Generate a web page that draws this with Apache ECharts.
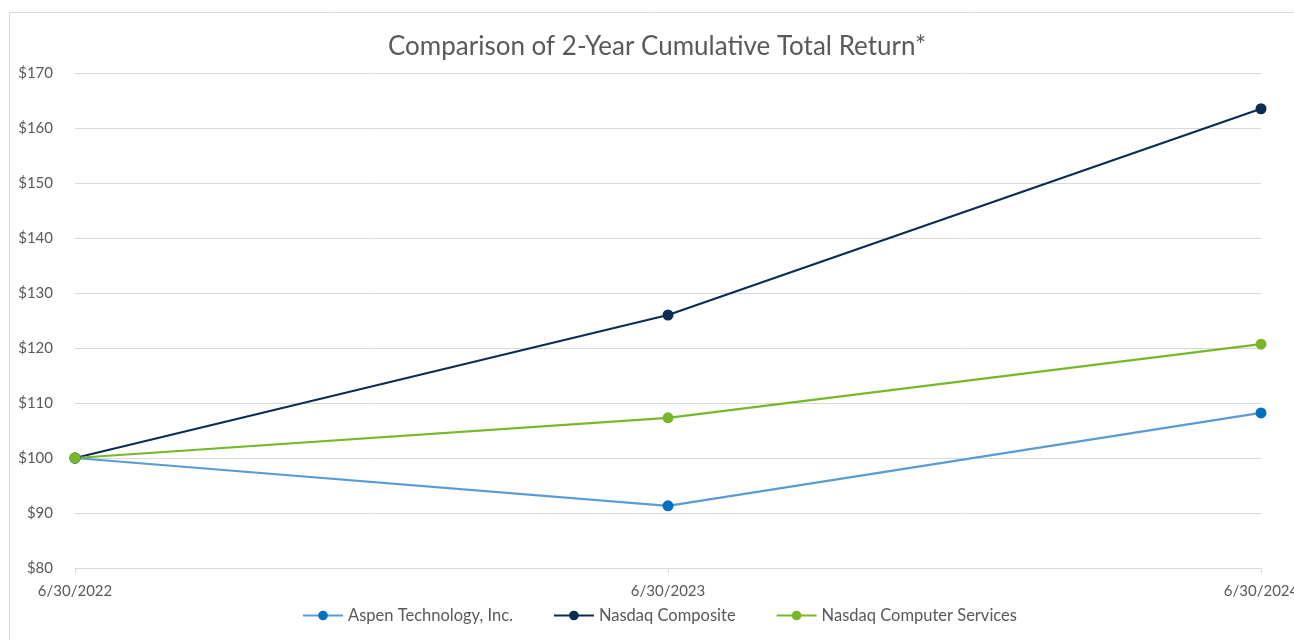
<!DOCTYPE html>
<html><head><meta charset="utf-8">
<script src="https://cdn.jsdelivr.net/npm/echarts@6/dist/echarts.min.js"></script>
<style>html,body{margin:0;padding:0;background:#fff}#c{width:1294px;height:640px}</style>
</head><body><div id="c"></div>
<script>
const categories = ['6/30/2022', '6/30/2023', '6/30/2024'];
const aspen = [100, 91.3, 108.2];
const nasdaqComposite = [100, 126.0, 163.5];
const nasdaqComputerServices = [100, 107.3, 120.7];
const yTicks = [80, 170, 10];

const chart = echarts.init(document.getElementById('c'));
const font = 'Lato, "Open Sans", sans-serif';
function mk(name, data, line, marker) {
  return {
    name, type: 'line', data,
    symbol: 'circle', symbolSize: 11,
    lineStyle: { color: line, width: 2.25 },
    itemStyle: { color: marker },
    emphasis: { disabled: true },
    animation: false
  };
}
chart.setOption({
  animation: false,
  textStyle: { fontFamily: font },
  graphic: [{ type: 'rect', silent: true, shape: { x: 9.5, y: 12.5, width: 1400, height: 700 },
    style: { fill: 'none', stroke: '#d9d9d9', lineWidth: 1 } }],
  title: { text: 'Comparison of 2-Year Cumulative Total Return*', left: 652, top: 29, textAlign: 'center',
    textStyle: { fontFamily: font, fontSize: 26, fontWeight: 'normal', color: '#595959' } },
  grid: { left: 75, right: 33, top: 73, bottom: 72, containLabel: false, outerBoundsMode: 'none' },
  legend: { bottom: 11, left: 297, itemWidth: 40, itemHeight: 12, itemGap: 40,
    textStyle: { fontFamily: font, fontSize: 16.5, color: '#595959' } },
  xAxis: { type: 'category', data: categories, boundaryGap: false,
    axisLine: { lineStyle: { color: '#d9d9d9' } },
    axisTick: { show: true, length: 5, lineStyle: { color: '#d9d9d9' } },
    axisLabel: { color: '#595959', fontSize: 15, margin: 16 } },
  yAxis: { type: 'value', min: yTicks[0], max: yTicks[1], interval: yTicks[2],
    axisLine: { show: false }, axisTick: { show: false },
    splitLine: { lineStyle: { color: '#d9d9d9' } },
    axisLabel: { color: '#595959', fontSize: 15, margin: 22, formatter: v => '$' + v } },
  series: [
    mk('Aspen Technology, Inc.', aspen, '#5b9bd5', '#0070c0'),
    mk('Nasdaq Composite', nasdaqComposite, '#0c2d53', '#0c2d53'),
    mk('Nasdaq Computer Services', nasdaqComputerServices, '#77b82a', '#77b82a')
  ]
});
</script></body></html>
